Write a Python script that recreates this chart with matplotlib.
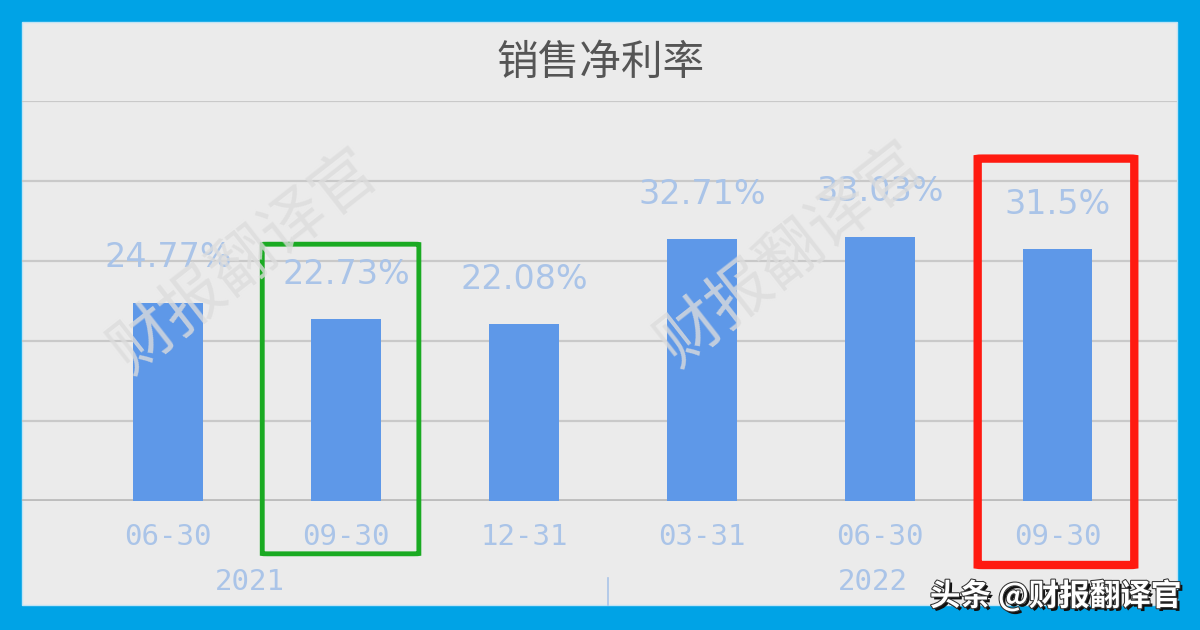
import matplotlib
matplotlib.use('Agg')
import matplotlib.pyplot as plt
from matplotlib.patches import Rectangle, FancyBboxPatch
from matplotlib import patheffects as pe
from matplotlib.transforms import blended_transform_factory

# 数据
dates = ['06-30', '09-30', '12-31', '03-31', '06-30', '09-30']
years = ['2021', '2022']
net_margin = [24.77, 22.73, 22.08, 32.71, 33.03, 31.5]
value_labels = ['24.77%', '22.73%', '22.08%', '32.71%', '33.03%', '31.5%']

cjk = ['Noto Sans CJK SC', 'DejaVu Sans']
mono = ['DejaVu Sans Mono']
border_blue = '#00A3E6'
panel_gray = '#EBEBEB'
bar_blue = '#5E98E8'
label_blue = '#AAC4E8'

fig = plt.figure(figsize=(12, 6.3), dpi=100, facecolor=border_blue)

# 灰色面板
fig.patches.append(Rectangle((22 / 1200, 1 - 605 / 630), 1155 / 1200, 583 / 630,
                             transform=fig.transFigure, facecolor=panel_gray,
                             edgecolor='#BFE3F5', linewidth=1, zorder=-1))

ax = fig.add_axes([22 / 1200, 1 - 501 / 630, 1155 / 1200, 400 / 630])
ax.set_facecolor('none')
ax.set_xlim(-0.82, 5.67)
ax.set_ylim(0, 50)
for s in ax.spines.values():
    s.set_visible(False)

# 网格线
ax.set_yticks([10, 20, 30, 40, 50])
ax.yaxis.grid(True, color='#C9C9C9', linewidth=1.6)
ax.tick_params(axis='y', left=False, labelleft=False)
ax.axhline(0, color='#BDBDBD', linewidth=3.5, zorder=1)
ax.set_axisbelow(True)

x = list(range(len(dates)))
ax.bar(x, net_margin, width=0.39, color=bar_blue, zorder=2)

for i, (v, t) in enumerate(zip(net_margin, value_labels)):
    ax.annotate(t, (i, v), xytext=(0, 45), textcoords='offset pixels',
                ha='center', va='center', fontsize=24, color=label_blue, zorder=3)

ax.set_xticks(x, dates)
ax.tick_params(axis='x', length=0, pad=16, labelsize=21, labelcolor=label_blue)
for lb in ax.get_xticklabels():
    lb.set_family(mono)

# 年份
trans = blended_transform_factory(ax.transData, fig.transFigure)
ax.text(0.46, 1 - 582 / 630, years[0], transform=trans, ha='center', va='center',
        fontsize=21, color=label_blue, family=mono)
ax.text(3.96, 1 - 582 / 630, years[1], transform=trans, ha='center', va='center',
        fontsize=21, color=label_blue, family=mono)
ax.plot([2.47, 2.47], [1 - 578 / 630, 1 - 605 / 630], transform=trans,
        color=label_blue, linewidth=1.2, clip_on=False)

# 标题
fig.text(0.5, 1 - 63 / 630, '销售净利率', ha='center', va='center',
         fontsize=30, color='#555555', family=cjk)

# 水印
for cx, cy in [(245, 262), (792, 255)]:
    fig.text(cx / 1200, 1 - cy / 630, '财报翻译官', ha='center', va='center',
             rotation=38, fontsize=46, color='#DCDCDC', family=cjk,
             fontweight='light', alpha=0.8, zorder=2.5)

# 标注框
def box(i, top, bottom, color, lw):
    r = FancyBboxPatch((i - 0.44, bottom), 0.88, top - bottom,
                       boxstyle='round,pad=0,rounding_size=0.03',
                       transform=ax.transData, fill=False, edgecolor=color,
                       linewidth=lw, clip_on=False, zorder=4)
    ax.add_patch(r)

box(1 - 0.03, 32.1, -6.6, '#1AAA22', 3.5)
box(5 - 0.01, 42.8, -8.0, '#FF1A10', 6)

# 页脚
fig.text(1181 / 1200, 1 - 596 / 630, '头条 @财报翻译官', ha='right', va='center',
         fontsize=22, color='white', family=cjk, fontweight='bold',
         path_effects=[pe.withSimplePatchShadow(offset=(2, -2), shadow_rgbFace='#111111', alpha=1.0),
                       pe.Stroke(linewidth=1.5, foreground='#333333'), pe.Normal()])

fig.savefig('out.png', dpi=100, facecolor=border_blue)
